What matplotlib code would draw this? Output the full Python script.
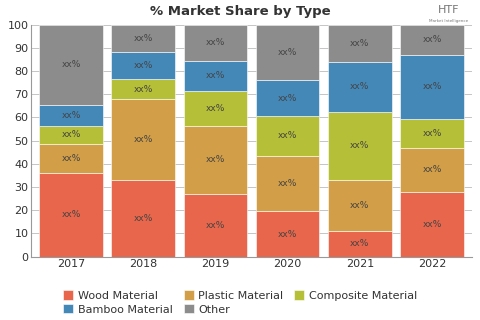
import numpy as np
import matplotlib.pyplot as plt

years = ["2017", "2018", "2019", "2020", "2021", "2022"]
types = ["Wood Material", "Plastic Material", "Composite Material", "Bamboo Material", "Other"]

wood = [36, 33, 27, 19.5, 11, 28]
plastic = [12.5, 35, 29.5, 24, 22, 19]
composite = [8, 8.5, 15, 17, 29.5, 12.5]
bamboo = [9, 11.5, 13, 15.5, 21.5, 27.5]
other = [34.5, 12, 15.5, 24, 16, 13]

colors = ["#E8664B", "#D29E47", "#B5BF37", "#4488B8", "#8C8C8C"]


def main():
	series = [wood, plastic, composite, bamboo, other]
	fig = plt.figure(figsize=(4.8, 3.2), dpi=100)
	ax = fig.add_axes([0.065, 0.198, 0.918, 0.725])

	x = np.arange(len(years))
	bottom = np.zeros(len(years))
	handles = []
	for name, vals, col in zip(types, series, colors):
		vals = np.array(vals)
		h = ax.bar(x, vals, width=0.88, bottom=bottom, color=col, label=name,
			edgecolor="white", linewidth=0.4, zorder=2)
		handles.append(h)
		for xi, b, v in zip(x, bottom, vals):
			ax.text(xi, b + v / 2, "xx%", ha="center", va="center",
				fontsize=6.5, color="#444444", zorder=3)
		bottom = bottom + vals

	ax.set_xlim(-0.55, len(years) - 0.45)
	ax.set_ylim(0, 100)
	ax.set_yticks(range(0, 101, 10))
	ax.set_xticks(x)
	ax.set_xticklabels(years)
	ax.tick_params(axis="both", labelsize=8, colors="#333333", length=0, pad=2)
	ax.yaxis.grid(True, color="#bbbbbb", linewidth=0.6, zorder=0)
	ax.set_axisbelow(True)
	for s in ["top", "right"]:
		ax.spines[s].set_visible(False)
	ax.spines["left"].set_color("#999999")
	ax.spines["bottom"].set_color("#999999")

	fig.text(0.5, 0.965, "% Market Share by Type", ha="center", va="center",
		fontsize=9.5, fontweight="heavy", color="#333333")
	fig.text(0.935, 0.97, "HTF", ha="center", va="center", fontsize=8, color="#777777")
	fig.text(0.935, 0.935, "Market Intelligence", ha="center", va="center",
		fontsize=3, color="#777777")

	# reorder so rows read left to right
	order = [0, 3, 1, 4, 2]
	leg = fig.legend([handles[i] for i in order], [types[i] for i in order],
		loc="center", bbox_to_anchor=(0.5, 0.055), ncol=3, frameon=False,
		fontsize=8, handlelength=0.9, handleheight=0.9, handletextpad=0.4,
		columnspacing=1.0, labelspacing=0.3, borderpad=0.1)
	for t in leg.get_texts():
		t.set_color("#333333")

	fig.savefig("out.png", dpi=100)


if __name__ == "__main__":
	main()
